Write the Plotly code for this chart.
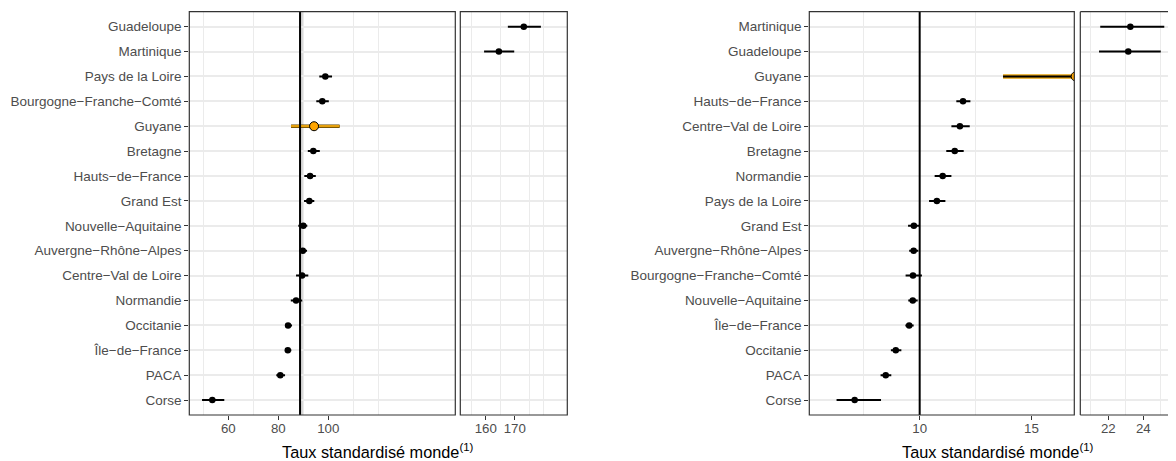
import plotly.graph_objects as go

W, H = 1176, 461
OFF = 8  # page body margin in the browser

# ---------------- data ----------------
left_regions = ["Guadeloupe", "Martinique", "Pays de la Loire", "Bourgogne−Franche−Comté", "Guyane",
                "Bretagne", "Hauts−de−France", "Grand Est", "Nouvelle−Aquitaine", "Auvergne−Rhône−Alpes",
                "Centre−Val de Loire", "Normandie", "Occitanie", "Île−de−France", "PACA", "Corse"]
left_rate = [173.1, 164.5, 98.8, 97.6, 94.3, 94.0, 92.7, 92.4, 90.0, 89.8, 89.5, 87.1, 83.9, 83.8, 80.8, 53.6]
left_low = [167.6, 159.4, 96.4, 95.2, 85.1, 91.8, 90.4, 90.3, 88.0, 88.4, 87.1, 85.0, 82.7, 82.7, 79.2, 49.5]
left_high = [179.0, 169.8, 101.5, 100.2, 104.5, 96.6, 95.0, 94.4, 91.6, 91.5, 92.0, 89.6, 85.5, 85.2, 82.7, 58.4]
left_ref, left_ref_low, left_ref_high = 88.7, 88.3, 89.9

right_regions = ["Martinique", "Guadeloupe", "Guyane", "Hauts−de−France", "Centre−Val de Loire", "Bretagne",
                 "Normandie", "Pays de la Loire", "Grand Est", "Auvergne−Rhône−Alpes", "Bourgogne−Franche−Comté",
                 "Nouvelle−Aquitaine", "Île−de−France", "Occitanie", "PACA", "Corse"]
right_rate = [23.26, 23.14, 16.98, 11.94, 11.80, 11.57, 11.03, 10.77, 9.74, 9.73, 9.70, 9.69, 9.53, 8.93, 8.48, 7.09]
right_low = [21.54, 21.47, 13.73, 11.64, 11.42, 11.19, 10.67, 10.42, 9.48, 9.53, 9.37, 9.49, 9.36, 8.71, 8.25, 6.28]
right_high = [25.2, 25.0, 20.3, 12.27, 12.24, 11.97, 11.42, 11.15, 9.98, 9.94, 10.10, 9.91, 9.73, 9.18, 8.73, 8.27]
right_ref = 10.0

highlight = "Guyane"

left_ticks_main = [60, 80, 100]
left_ticks_break = [160, 170]
right_ticks_main = [10, 15]
right_ticks_break = [22, 24]

left_grid_main = [50, 70, 90, 110, 120]
left_grid_break = [155, 165, 175, 180]
right_grid_main = [7.5, 12.5]
right_grid_break = [21, 23, 25]

left_range_main = [44.4, 150.8]
left_range_break = [151.2, 188.1]
right_range_main = [5.06, 16.92]
right_range_break = [20.4, 25.87]

x_title = "Taux standardisé monde<sup>(1)</sup>"

# ---------------- style ----------------
FONT = "Liberation Sans, Arial, Helvetica, sans-serif"
GRID = "#ebebeb"
BORDER = "#333333"
TICKC = "#4d4d4d"
ORANGE = "#FFA500"
ORANGE_LINE = "#E5A00D"


def px(v):
    return (v - OFF) / W


def py(v):
    return 1 - (v - OFF) / H


fig = go.Figure()


def err(rate, low, high):
    return ([h - r for r, h in zip(rate, high)], [r - l for r, l in zip(rate, low)])


def add_panel(regions, rate, low, high, xa, ya, orange_on_top):
    plus, minus = err(rate, low, high)
    i = regions.index(highlight)
    if not orange_on_top:
        fig.add_trace(go.Scatter(
            x=[rate[i]], y=[regions[i]], mode="markers", xaxis=xa, yaxis=ya,
            marker=dict(size=1, opacity=0),
            error_x=dict(type="data", symmetric=False, array=[plus[i]], arrayminus=[minus[i]],
                         color=ORANGE_LINE, thickness=4.5, width=0),
            showlegend=False, hoverinfo="skip"))
    fig.add_trace(go.Scatter(
        x=rate, y=regions, mode="markers", xaxis=xa, yaxis=ya,
        marker=dict(size=6.5, color="black"),
        error_x=dict(type="data", symmetric=False, array=plus, arrayminus=minus,
                     color="black", thickness=2, width=0),
        showlegend=False))
    if orange_on_top:
        fig.add_trace(go.Scatter(
            x=[rate[i]], y=[regions[i]], mode="markers", xaxis=xa, yaxis=ya,
            marker=dict(size=1, opacity=0),
            error_x=dict(type="data", symmetric=False, array=[plus[i]], arrayminus=[minus[i]],
                         color="#5a4100", thickness=3.6, width=0),
            showlegend=False, hoverinfo="skip"))
        fig.add_trace(go.Scatter(
            x=[rate[i]], y=[regions[i]], mode="markers", xaxis=xa, yaxis=ya,
            marker=dict(size=1, opacity=0),
            error_x=dict(type="data", symmetric=False, array=[plus[i]], arrayminus=[minus[i]],
                         color=ORANGE_LINE, thickness=2.2, width=0),
            showlegend=False, hoverinfo="skip"))
    fig.add_trace(go.Scatter(
        x=[rate[i]], y=[regions[i]], mode="markers", xaxis=xa, yaxis=ya,
        marker=dict(size=9, color=ORANGE, line=dict(color="black", width=1)),
        showlegend=False))


# left chart: main + break panels
add_panel(left_regions, left_rate, left_low, left_high, "x", "y", True)
add_panel(left_regions, left_rate, left_low, left_high, "x2", "y", True)
# right chart
add_panel(right_regions, right_rate, right_low, right_high, "x3", "y2", False)
add_panel(right_regions, right_rate, right_low, right_high, "x4", "y2", False)

ydom = [py(415), py(11.7)]


def xaxis(dom, rng, ticks, grid, anchor):
    return dict(
        domain=dom, range=rng, anchor=anchor, tickmode="array", tickvals=ticks,
        ticktext=[str(t) for t in ticks], showgrid=False, zeroline=False,
        ticks="outside", ticklen=4, tickwidth=1, tickcolor=BORDER, ticklabelstandoff=-3,
        tickfont=dict(family=FONT, size=13.3, color=TICKC), showline=False,
        minor=dict(tickmode="array", tickvals=grid, showgrid=True, gridcolor=GRID,
                   gridwidth=1, ticklen=0),
    )


def yaxis(regions, anchor):
    return dict(
        domain=ydom, anchor=anchor, type="category",
        categoryorder="array", categoryarray=list(reversed(regions)),
        range=[-0.6, len(regions) - 0.4], showgrid=True, gridcolor=GRID, gridwidth=1.6,
        zeroline=False, ticks="outside", ticklen=4, tickwidth=1, tickcolor=BORDER,
        tickfont=dict(family=FONT, size=13.5, color=TICKC), showline=False,
    )


fig.update_layout(
    width=W, height=H, margin=dict(l=0, r=0, t=0, b=0, autoexpand=False),
    paper_bgcolor="white", plot_bgcolor="white",
    xaxis=xaxis([px(189.3), px(455.3)], left_range_main, left_ticks_main, left_grid_main, "y"),
    xaxis2=xaxis([px(460.3), px(567.3)], left_range_break, left_ticks_break, left_grid_break, "y"),
    xaxis3=xaxis([px(809.3), px(1074.3)], right_range_main, right_ticks_main, right_grid_main, "y2"),
    xaxis4=xaxis([px(1080.3), px(1176)], right_range_break, right_ticks_break, right_grid_break, "y2"),
    yaxis=yaxis(left_regions, "x"),
    yaxis2=yaxis(right_regions, "x3"),
    showlegend=False,
)

shapes = []
# reference band & line
shapes.append(dict(type="rect", xref="x", yref="y domain", x0=left_ref_low, x1=left_ref_high, y0=0, y1=1,
                   fillcolor="#d9d9d9", line=dict(width=0), layer="below"))
shapes.append(dict(type="line", xref="x", yref="y domain", x0=left_ref, x1=left_ref, y0=0, y1=1,
                   line=dict(color="black", width=2), layer="above"))
shapes.append(dict(type="line", xref="x3", yref="y2 domain", x0=right_ref, x1=right_ref, y0=0, y1=1,
                   line=dict(color="black", width=2), layer="above"))
# panel borders
for xr, yr in [("x", "y"), ("x2", "y"), ("x3", "y2")]:
    shapes.append(dict(type="rect", xref=f"{xr} domain", yref=f"{yr} domain", x0=0, x1=1, y0=0, y1=1,
                       line=dict(color=BORDER, width=1.2), fillcolor="rgba(0,0,0,0)", layer="above"))
for (x0, y0, x1, y1) in [(0, 1, 1.05, 1), (0, 0, 0, 1), (0, 0, 1.05, 0)]:
    shapes.append(dict(type="line", xref="x4 domain", yref="y2 domain", x0=x0, y0=y0, x1=x1, y1=y1,
                       line=dict(color=BORDER, width=1.2), layer="above"))
fig.update_layout(shapes=shapes)

fig.add_annotation(x=px(378.3), y=py(451), xref="paper", yref="paper", text=x_title, showarrow=False,
                   xanchor="center", yanchor="middle", font=dict(family=FONT, size=16.3, color="black"))
fig.add_annotation(x=px(998), y=py(451), xref="paper", yref="paper", text=x_title, showarrow=False,
                   xanchor="center", yanchor="middle", font=dict(family=FONT, size=16.3, color="black"))

fig.write_html("out.html")
